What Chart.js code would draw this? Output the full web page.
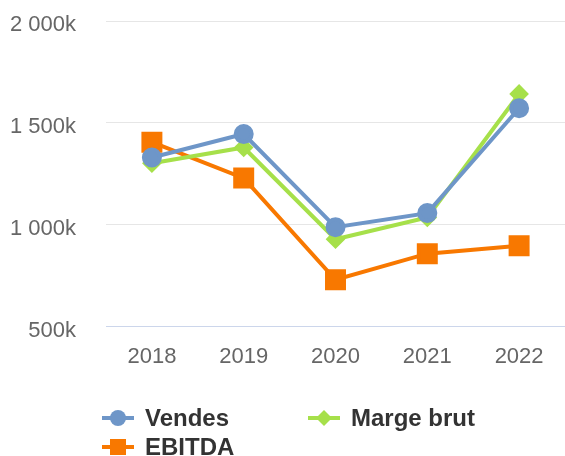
<!DOCTYPE html>
<html>
<head>
<meta charset="utf-8">
<script src="https://cdn.jsdelivr.net/npm/chart.js@4.4.0/dist/chart.umd.min.js"></script>
<style>
  html, body { margin: 0; padding: 0; background: #fff; overflow: hidden; }
  canvas { display: block; }
</style>
</head>
<body>
<canvas id="chart" width="565" height="456"></canvas>
<script>
// values in thousands
const years = ['2018', '2019', '2020', '2021', '2022'];
const vendes = [1330, 1445, 988, 1057, 1572];
const margeBrut = [1302, 1379, 929, 1036, 1642];
const ebitda = [1405, 1229, 730, 858, 897];
const yTicks = [500, 1000, 1500, 2000];

const colVendes = '#6e96c8';
const colMarge = '#a6e04a';
const colEbitda = '#f87800';

const FONT = '"Liberation Sans", Arial, sans-serif';

function fmtK(v){
  // 2000 -> "2 000k"
  const s = String(v);
  return s.replace(/\B(?=(\d{3})+(?!\d))/g, ' ') + 'k';
}

// legend drawn by hand so it can sit in two columns like the original
const legendPlugin = {
  id: 'gridLegend',
  afterDraw(chart){
    const c = chart.ctx;
    const slots = [[102, 418], [308, 418], [102, 447]];
    chart.data.datasets.forEach((ds, i) => {
      const [x, y] = slots[i];
      c.save();
      c.strokeStyle = ds.borderColor;
      c.lineWidth = 4;
      c.beginPath();
      c.moveTo(x, y); c.lineTo(x + 32, y);
      c.stroke();
      c.fillStyle = ds.borderColor;
      const mx = x + 16;
      if(ds.pointStyle === 'circle'){
        c.beginPath(); c.arc(mx, y, 8, 0, Math.PI * 2); c.fill();
      } else if(ds.pointStyle === 'rectRot'){
        c.beginPath();
        c.moveTo(mx - 8, y); c.lineTo(mx, y - 8); c.lineTo(mx + 8, y); c.lineTo(mx, y + 8);
        c.closePath(); c.fill();
      } else {
        c.fillRect(mx - 8, y - 8, 16, 16);
      }
      c.fillStyle = '#333333';
      c.font = 'bold 24px ' + FONT;
      c.textBaseline = 'middle';
      c.fillText(ds.label, x + 43, y + 1);
      c.restore();
    });
  }
};

new Chart(document.getElementById('chart'), {
  type: 'line',
  data: {
    labels: years,
    datasets: [
      { label: 'Vendes', data: vendes, borderColor: colVendes, backgroundColor: colVendes,
        pointStyle: 'circle', pointRadius: 8, pointHoverRadius: 8, borderWidth: 4, clip: false },
      { label: 'Marge brut', data: margeBrut, borderColor: colMarge, backgroundColor: colMarge,
        pointStyle: 'rectRot', pointRadius: 7, pointHoverRadius: 7, borderWidth: 4, clip: false },
      { label: 'EBITDA', data: ebitda, borderColor: colEbitda, backgroundColor: colEbitda,
        pointStyle: 'rect', pointRadius: 12, pointHoverRadius: 12, borderWidth: 4, clip: false }
    ]
  },
  options: {
    responsive: false,
    animation: false,
    layout: { autoPadding: false, padding: { top: 21, right: 0, bottom: 69, left: 0 } },
    plugins: { legend: { display: false }, tooltip: { enabled: false } },
    scales: {
      x: {
        offset: true,
        afterFit: s => { s.paddingLeft = 0; s.paddingRight = 0; },
        grid: { display: false, drawTicks: false },
        border: { display: false },
        ticks: { color: '#666666', font: { size: 22, family: FONT }, padding: 17, maxRotation: 0 }
      },
      y: {
        min: 500,
        max: 2000,
        afterBuildTicks: s => { s.ticks = yTicks.map(v => ({value: v})); },
        afterFit: s => { s.width = 106; s.paddingTop = 0; s.paddingBottom = 0; },
        grid: { drawTicks: false, lineWidth: 1,
                color: c => c.tick && c.tick.value === 500 ? '#ccd6eb' : '#e6e6e6' },
        border: { display: false },
        ticks: { color: '#666666', font: { size: 22, family: FONT }, padding: 30,
                 labelOffset: 4, callback: v => fmtK(v) }
      }
    }
  },
  plugins: [legendPlugin]
});
</script>
</body>
</html>
